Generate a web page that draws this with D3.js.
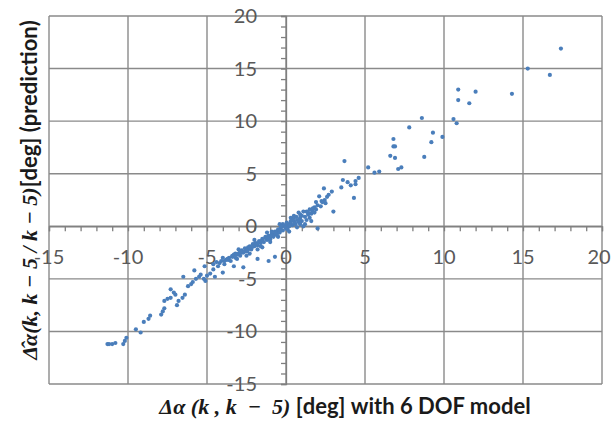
<!DOCTYPE html>
<html>
<head>
<meta charset="utf-8">
<script src="https://cdn.jsdelivr.net/npm/d3@7"></script>
<style>
  body { margin: 0; background: #fff; }
  .tick-label { font-family: Lato, "Open Sans", sans-serif; font-size: 20px; fill: #595959; }
</style>
</head>
<body>
<div id="app"><svg class="chart"></svg></div>
<script>
//======
// Data
//======

var xTicks = [-15, -10, -5, 0, 5, 10, 15, 20];
var yTicks = [-15, -10, -5, 0, 5, 10, 15, 20];

// measured change (x) vs predicted change (y), deg
var xValues = [
  17.4, 15.3, 16.7, 14.3, 10.9, 12.0, 10.9, 11.6, 10.6, 10.8, 8.6, 7.8, 9.3, 9.2, 9.9,
  6.8, 6.8, 6.9, 6.6, 6.9, 8.75, 7.1, 7.3, 5.2, 5.6, 5.9, 3.7, 4.6, 4.4, 3.6, 3.9, 4.1,
  4.4, 4.3, 3.5, 3.0, 2.4, 2.9, 2.7, 2.6, 2.1, 2.25, 2.45, 1.9, 1.8, 1.65,
  -11.3, -11.2, -11.0, -10.8, -10.3, -10.2, -10.1, -9.5, -9.2, -9.0, -8.7, -8.6, -7.9,
  -7.8, -7.7, -7.7, -7.5, -7.3, -7.0, -7.3, -7.1, -6.9, -6.8, -6.55, -6.4, -6.5, -6.2,
  -6.0, -5.9, -5.7, -5.8, -5.5, -5.4, -5.2, -5.1, -5.0, -5.15, -4.8, -4.6, -4.5, -4.3,
  -4.2, -4.0, -3.9, -3.65, -3.4, -3.3, -3.2, -3.1, -2.9, -2.7, -2.6, -2.4, -2.2, -2.0,
  -1.8, -1.6, -1.5, -1.3, -1.1, -1.0, -0.8, -0.6, -0.7, -0.4, -0.2, 0.05, 0.3, 0.5, 0.9,
  1.1, 1.3, 1.5, 1.7, 2.0, 2.3,
  -3.8, -3.6, -3.5, -3.3, -3.2, -3.0, -2.9, -2.8, -2.7, -2.6, -2.5, -2.4, -2.3, -2.2,
  -2.1, -2.0, -1.9, -1.8, -1.7, -1.6, -1.5, -1.4, -1.3, -1.2, -1.1, -1.0, -0.9, -0.8,
  -0.7, -0.6, -0.5, -0.4, -0.3, -0.2, -0.1, 0.0, 0.1, 0.2, 0.3, 0.4, 0.5, 0.6, 0.7, 0.8,
  0.9, 1.0, 1.2, 1.3, 1.4, 1.6, 1.8, -2.5, -1.5, -1.0, -0.5, 0.2, 0.7, 1.2, -3.0, -2.0,
  -1.2, -0.4, 0.3, -4.6, -4.4, -4.0, -3.9, -2.3, -1.8, 0.5, 0.8, 1.0, 1.1, 2.0, 1.5, 0.9,
  1.6, 2.5,
  -3.4, -3.1, -2.8, -2.45, -2.15, -1.85, -1.55, -1.25, -0.95, -0.65, -0.35, -0.05, 0.25,
  0.55, 0.85, -2.9, -2.3, -1.7, -1.1, -0.55, 0.1, 0.65, -4.1, -3.7, 1.4, 1.9, 2.2, -0.9,
  -0.3, 0.4
];
var yValues = [
  16.9, 15.0, 14.4, 12.6, 13.0, 12.8, 12.0, 11.7, 10.2, 9.8, 10.3, 9.4, 8.9, 8.0, 8.5,
  8.3, 7.6, 7.6, 6.7, 6.5, 6.6, 5.45, 5.6, 5.6, 5.1, 5.2, 6.2, 4.6, 4.3, 4.4, 4.2, 3.9,
  4.0, 2.7, 3.7, 1.4, 3.6, 3.3, 3.0, 2.8, 2.85, 2.4, 2.5, 2.3, 1.8, 1.5,
  -11.2, -11.2, -11.2, -11.1, -11.2, -10.9, -10.6, -9.8, -10.1, -9.1, -8.8, -8.5, -8.4,
  -8.1, -7.8, -7.1, -6.9, -6.8, -6.5, -6.0, -6.3, -7.5, -7.1, -6.8, -6.5, -4.8, -5.7,
  -5.5, -5.3, -5.0, -4.2, -4.8, -4.6, -5.0, -5.2, -4.7, -3.8, -4.5, -4.1, -4.8, -3.8,
  -3.5, -4.4, -3.3, -3.2, -2.9, -3.8, -2.6, -3.1, -2.5, -3.9, -2.4, -2.0, -2.2, -1.7,
  -3.1, -1.9, -1.4, -1.1, -3.3, -1.25, -0.8, -0.5, -2.9, -0.3, 0.2, 0.35, 0.5, 0.8, 1.1,
  0.0, 1.4, 0.8, 1.7, -0.2, 2.3,
  -3.2, -3.0, -3.3, -2.7, -3.0, -2.6, -2.8, -2.3, -2.5, -2.1, -2.4, -2.2, -1.9, -2.0,
  -1.7, -1.9, -1.6, -1.8, -1.4, -1.6, -1.2, -1.5, -1.0, -1.3, -0.9, -1.1, -0.7, -1.0,
  -0.5, -0.8, -0.3, -0.6, -0.1, -0.4, 0.1, -0.2, 0.2, 0.0, 0.3, 0.1, 0.5, 0.2, 0.6, 0.4,
  0.8, 0.5, 0.9, 0.6, 1.1, 1.2, 1.3, -2.8, -2.0, -1.5, -1.0, -0.5, -0.1, 0.2, -2.2, -1.3,
  -0.6, 0.2, 0.8, -3.6, -3.4, -3.0, -3.6, -2.6, -2.2, 1.0, 1.3, 1.0, 1.4, 2.0, 1.6, 0.2,
  0.5, 2.2,
  -2.8, -2.7, -2.5, -2.3, -2.0, -1.7, -1.4, -1.2, -0.9, -0.6, -0.4, -0.1, 0.1, 0.35,
  0.65, -2.4, -2.0, -1.5, -1.2, -0.9, -0.3, 0.9, -3.3, -3.1, 1.3, 1.6, 1.9, -0.5, 0.0,
  0.6
];

//=======
// Chart
//=======

function buildScatter() {
  var width = 612,
    height = 426;

  var points = xValues.map(function(x, i) { return { x: x, y: yValues[i] }; });

  var svg = d3.select(".chart")
    .attr("width", width)
    .attr("height", height);

  svg.append("rect").attr("width", width).attr("height", height).attr("fill", "#fff");

  var xScale = d3.scaleLinear().domain([-15, 20]).range([49, 602]);
  var yScale = d3.scaleLinear().domain([-15, 20]).range([384, 16]);

  // grid
  svg.append("g").selectAll("line")
    .data(xTicks)
    .enter()
    .append("line")
    .attr("x1", function(d) { return xScale(d); })
    .attr("x2", function(d) { return xScale(d); })
    .attr("y1", yScale(20))
    .attr("y2", yScale(-15))
    .attr("stroke", "#8a8a8a")
    .attr("stroke-width", 1.4);

  svg.append("g").selectAll("line")
    .data(yTicks)
    .enter()
    .append("line")
    .attr("y1", function(d) { return yScale(d); })
    .attr("y2", function(d) { return yScale(d); })
    .attr("x1", xScale(-15))
    .attr("x2", xScale(20))
    .attr("stroke", "#8a8a8a")
    .attr("stroke-width", 1.4);

  // axes through the origin, minor ticks every unit
  var xAxis = svg.append("g")
    .attr("transform", "translate(0," + yScale(0) + ")")
    .call(d3.axisBottom(xScale).ticks(35).tickSize(5).tickFormat(""));
  var yAxis = svg.append("g")
    .attr("transform", "translate(" + xScale(0) + ",0)")
    .call(d3.axisLeft(yScale).ticks(35).tickSize(5).tickFormat(""));
  [xAxis, yAxis].forEach(function(a) {
    a.selectAll("path, line").attr("stroke", "#7f7f7f").attr("stroke-width", 1.3);
  });

  // tick labels, Excel style
  svg.append("g").selectAll("text")
    .data(xTicks)
    .enter()
    .append("text")
    .attr("class", "tick-label")
    .attr("x", function(d) { return Math.min(xScale(d), 599); })
    .attr("y", yScale(0) + 38)
    .attr("text-anchor", "middle")
    .text(function(d) { return d; });

  svg.append("g").selectAll("text")
    .data(yTicks)
    .enter()
    .append("text")
    .attr("class", "tick-label")
    .attr("x", xScale(0) - 29)
    .attr("y", function(d) { return yScale(d) + 7; })
    .attr("text-anchor", "end")
    .text(function(d) { return d; });

  // dots
  svg.append("g").selectAll("circle")
    .data(points)
    .enter()
    .append("circle")
    .attr("cx", function(d) { return xScale(d.x); })
    .attr("cy", function(d) { return yScale(d.y); })
    .attr("r", 2.1)
    .attr("fill", "#4a7ebb");

  // axis titles
  var xTitle = svg.append("text")
    .attr("x", 345)
    .attr("y", 414)
    .attr("text-anchor", "middle")
    .attr("fill", "#1a1a1a");
  xTitle.append("tspan")
    .attr("font-family", "'Liberation Serif', 'DejaVu Serif', serif")
    .attr("font-style", "italic").attr("font-weight", "bold").attr("font-size", 22)
    .attr("xml:space", "preserve")
    .text("\u0394\u03b1 (k , k  \u2212  5) ");
  xTitle.append("tspan")
    .attr("font-family", "Lato, 'Open Sans', sans-serif")
    .attr("font-weight", "bold").attr("font-size", 22)
    .text("[deg] with 6 DOF model");

  var yTitle = svg.append("text")
    .attr("transform", "translate(37,190) rotate(-90)")
    .attr("text-anchor", "middle")
    .attr("fill", "#1a1a1a");
  yTitle.append("tspan")
    .attr("font-family", "'Liberation Serif', 'DejaVu Serif', serif")
    .attr("font-style", "italic").attr("font-weight", "bold").attr("font-size", 22)
    .text("\u0394\u0302\u03b1(k, k \u2212 5 / k \u2212 5)");
  yTitle.append("tspan")
    .attr("font-family", "Lato, 'Open Sans', sans-serif")
    .attr("font-weight", "bold").attr("font-size", 22)
    .text("[deg] (prediction)");
}

buildScatter();
</script>
</body>
</html>
